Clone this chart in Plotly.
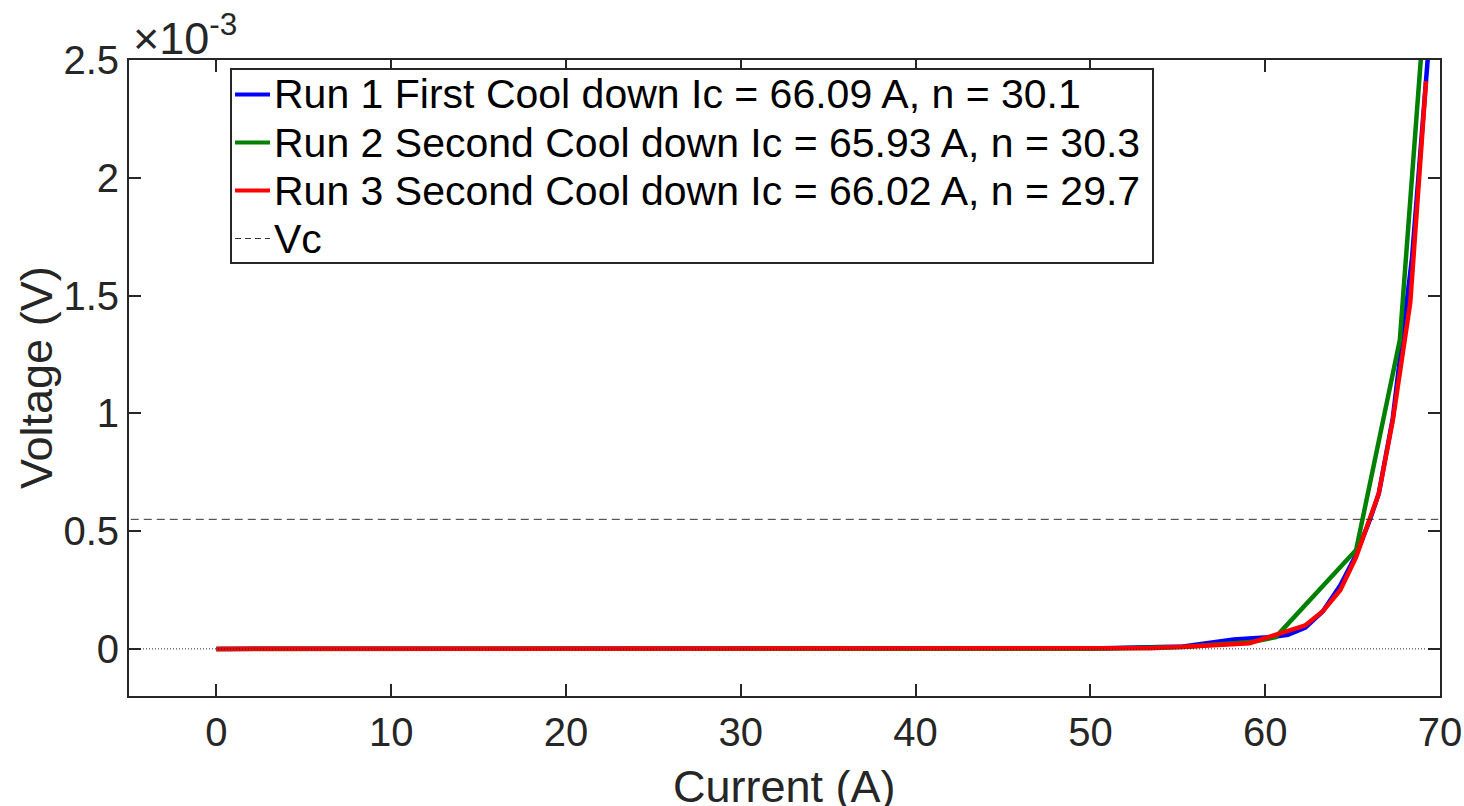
import plotly.graph_objects as go

# ---------------- data ----------------
run1_current = [0, 5, 10, 15, 20, 25, 30, 35, 40, 45, 50, 55.3, 58.2, 60.4, 61.3, 62.3, 63.3, 64.3, 65.2, 66.0, 66.5, 67.3, 68.4, 69.4]
run1_voltage = [0, 0, 0, 0, 0, 0, 0, 0, 0, 0, 0.000002, 0.00001, 0.00004, 0.00005, 0.00006, 0.00009, 0.00016,
                0.00027, 0.00040, 0.00055, 0.00066, 0.00098, 0.00166, 0.0026]

run2_current = [0, 5, 10, 15, 20, 25, 30, 35, 40, 45, 50, 55.3, 59.3, 60.6, 65.2, 67.7, 69.1]
run2_voltage = [0, 0, 0, 0, 0, 0, 0, 0, 0, 0, 0.000001, 0.000008, 0.00003, 0.00005, 0.00042, 0.00131, 0.0027]

run3_current = [0, 5, 10, 15, 20, 25, 30, 35, 40, 45, 50, 53.4, 55.7, 57.5, 59.1, 60.4, 62.3, 63.3, 64.3, 65.2,
                66.0, 66.5, 67.3, 68.3, 69.2]
run3_voltage = [0, 0, 0, 0, 0, 0, 0, 0, 0, 0, 0.000001, 0.000003, 0.00001, 0.000016, 0.000024, 0.000055, 0.00010,
                0.00016, 0.00025, 0.00039, 0.00055, 0.00066, 0.00097, 0.00147, 0.00241]

vc_value = 0.00055
vc_current = [-4.9, 69.9]
zero_current = [-4.2, 69.2]

legend_labels = [
    "Run 1 First Cool down Ic = 66.09 A, n = 30.1",
    "Run 2 Second Cool down Ic = 65.93 A, n = 30.3",
    "Run 3 Second Cool down Ic = 66.02 A, n = 29.7",
    "Vc",
]
x_ticks = [0, 10, 20, 30, 40, 50, 60, 70]
y_ticks = [0, 0.0005, 0.001, 0.0015, 0.002, 0.0025]
y_tick_text = ["0", "0.5", "1", "1.5", "2", "2.5"]

# ---------------- style ----------------
W, H = 1464, 806
L, R, T, B = 129, 1440, 60, 696
FONT = "Liberation Sans, Arial, Helvetica, sans-serif"
AX = "#262626"
BLUE, GREEN, RED = "#0000FF", "#008000", "#FF0000"
LW = 4.5


def px(xp):
    return (xp - L) / (R - L)


def py(yp):
    return (B - yp) / (B - T)


fig = go.Figure()
fig.add_trace(go.Scatter(x=run1_current, y=run1_voltage, mode="lines",
                         line=dict(color=BLUE, width=LW), showlegend=False))
fig.add_trace(go.Scatter(x=run2_current, y=run2_voltage, mode="lines",
                         line=dict(color=GREEN, width=LW), showlegend=False))
fig.add_trace(go.Scatter(x=run3_current, y=run3_voltage, mode="lines",
                         line=dict(color=RED, width=LW), showlegend=False))
fig.add_trace(go.Scatter(x=vc_current, y=[vc_value, vc_value], mode="lines",
                         line=dict(color="#333333", width=1, dash="8px,5px"), showlegend=False))
fig.add_trace(go.Scatter(x=zero_current, y=[0, 0], mode="lines",
                         line=dict(color="#222222", width=1, dash="1px,2px"), showlegend=False))

shapes = []
annotations = []

# manual legend box
shapes.append(dict(type="rect", xref="paper", yref="paper",
                   x0=px(231), x1=px(1153), y0=py(263), y1=py(69),
                   line=dict(color=AX, width=2), fillcolor="white", layer="above"))
row_y = [94.5, 142.5, 190.5, 238.5]
colors = [BLUE, GREEN, RED, "#333333"]
for i, (lab, c, ry) in enumerate(zip(legend_labels, colors, row_y)):
    if i < 3:
        ln = dict(color=c, width=4)
    else:
        ln = dict(color=c, width=1, dash="6px,4px")
    shapes.append(dict(type="line", xref="paper", yref="paper",
                       x0=px(235), x1=px(270), y0=py(ry), y1=py(ry), line=ln, layer="above"))
    annotations.append(dict(text=lab, xref="paper", yref="paper", x=px(272), y=py(ry),
                            xanchor="left", yanchor="middle", showarrow=False,
                            font=dict(family=FONT, size=41, color="black")))

# axis titles and exponent
annotations.append(dict(text="Current (A)", xref="paper", yref="paper", x=0.5, y=py(786),
                        xanchor="center", yanchor="middle", showarrow=False,
                        font=dict(family=FONT, size=45, color=AX)))
annotations.append(dict(text="Voltage (V)", xref="paper", yref="paper", x=px(36), y=0.5,
                        xanchor="center", yanchor="middle", textangle=-90, showarrow=False,
                        font=dict(family=FONT, size=45, color=AX)))
annotations.append(dict(text="×10<sup>-3</sup>", xref="paper", yref="paper", x=px(131), y=py(66),
                        xanchor="left", yanchor="bottom", showarrow=False,
                        font=dict(family=FONT, size=45, color=AX)))

axis_common = dict(showline=True, linecolor=AX, linewidth=2, mirror="ticks", ticks="inside",
                   ticklen=12, tickwidth=2, tickcolor=AX, showgrid=False, zeroline=False,
                   tickfont=dict(family=FONT, size=40, color=AX))

fig.update_layout(
    width=W, height=H,
    margin=dict(l=L, r=W - R, t=T, b=H - B, autoexpand=False),
    paper_bgcolor="white", plot_bgcolor="white",
    xaxis=dict(range=[-5, 70], tickvals=x_ticks, ticklabelstandoff=0, **axis_common),
    yaxis=dict(range=[-0.0002, 0.0025], tickvals=y_ticks, ticktext=y_tick_text,
               ticklabelstandoff=0, **axis_common),
    shapes=shapes, annotations=annotations, showlegend=False,
)

fig.write_html("out.html")
